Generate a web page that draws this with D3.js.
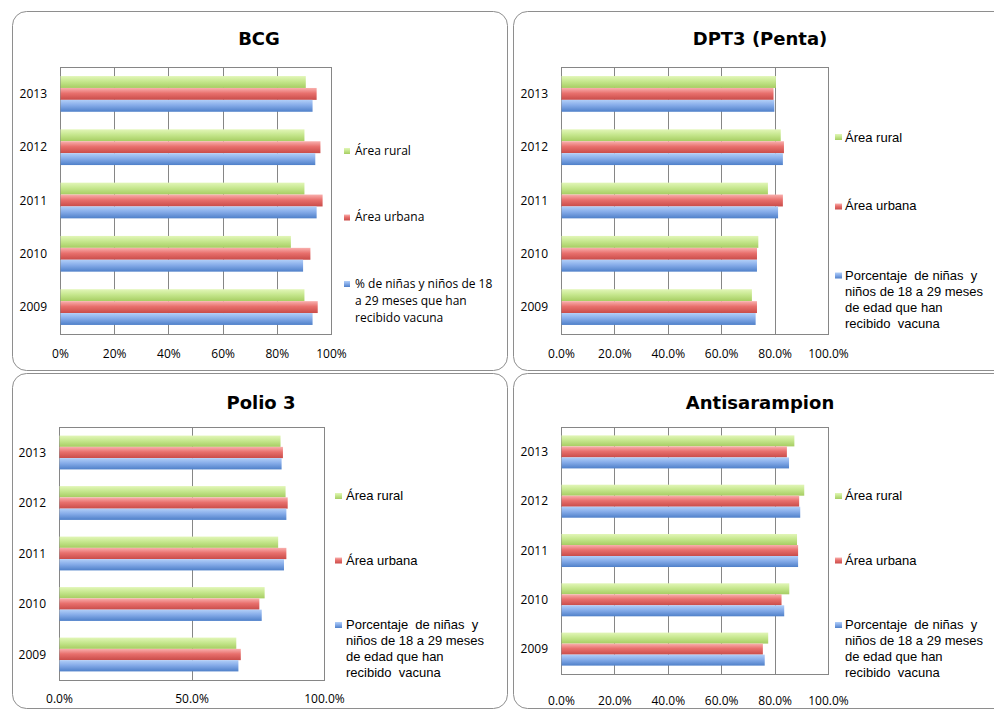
<!DOCTYPE html>
<html>
<head>
<meta charset="utf-8">
<script src="https://cdn.jsdelivr.net/npm/d3@7"></script>
<style>
  html, body { margin: 0; padding: 0; background: #fff; }
  svg { display: block; }
</style>
</head>
<body>
<svg id="chart" width="994" height="710"></svg>
<script>
// ---- Data (order: 2009 .. 2013) ----
const years = ["2009", "2010", "2011", "2012", "2013"];
const seriesNames = ["Área rural", "Área urbana", "Total"];

const bcgRural  = [90.2, 85.2, 90.2, 90.2, 90.7];
const bcgUrbana = [95.1, 92.4, 96.9, 96.1, 94.7];
const bcgTotal  = [93.2, 89.7, 94.7, 94.2, 93.2];

const dptRural  = [71.5, 73.9, 77.5, 82.3, 80.5];
const dptUrbana = [73.4, 73.4, 83.1, 83.5, 79.6];
const dptTotal  = [72.9, 73.4, 81.3, 83.1, 79.9];

const polioRural  = [66.9, 77.6, 82.7, 85.5, 83.6];
const polioUrbana = [68.6, 75.6, 85.8, 86.3, 84.5];
const polioTotal  = [67.7, 76.5, 84.9, 85.8, 84.0];

const antiRural  = [77.6, 85.5, 88.4, 91.1, 87.4];
const antiUrbana = [75.6, 82.6, 88.8, 89.2, 84.6];
const antiTotal  = [76.3, 83.6, 88.8, 89.6, 85.4];

const ticks20 = [0, 0.2, 0.4, 0.6, 0.8, 1.0];
const ticks50 = [0, 0.5, 1.0];

const bcgTotalLabel = ["% de niñas y niños de 18", "a 29 meses que han", "recibido vacuna"];
const longTotalLabel = ["Porcentaje\u00a0 de niñas\u00a0 y", "niños de 18 a 29 meses", "de edad que han", "recibido\u00a0 vacuna"];

// ---- Drawing ----
const svg = d3.select("#chart");
const defs = svg.append("defs");
const grads = {
  rural:  ["#e2f6b8", "#c6e78e", "#a6cd62"],
  urbana: ["#f9b0ae", "#e8706d", "#c94c49"],
  total:  ["#b2cff8", "#86ace9", "#4f80c9"]
};
Object.entries(grads).forEach(([k, c]) => {
  const g = defs.append("linearGradient").attr("id", "g-" + k)
    .attr("x1", 0).attr("y1", 0).attr("x2", 0).attr("y2", 1);
  g.append("stop").attr("offset", "0%").attr("stop-color", c[0]);
  g.append("stop").attr("offset", "45%").attr("stop-color", c[1]);
  g.append("stop").attr("offset", "100%").attr("stop-color", c[2]);
});
const keys = ["rural", "urbana", "total"];

const calibriLike = "'Open Sans', sans-serif";
const arialLike = "'Liberation Sans', Arial, sans-serif";

function drawPanel(cfg) {
  const g = svg.append("g");
  g.append("rect")
    .attr("x", cfg.box[0] + 0.5).attr("y", cfg.box[1] + 0.5)
    .attr("width", cfg.box[2]).attr("height", cfg.box[3])
    .attr("rx", 14).attr("ry", 14)
    .attr("fill", "#fff").attr("stroke", "#8e8e8e").attr("stroke-width", 1);

  g.append("text")
    .attr("x", cfg.titleX).attr("y", cfg.titleY)
    .attr("text-anchor", "middle")
    .style("font-family", "'DejaVu Sans', sans-serif")
    .style("font-weight", "bold").style("font-size", "18px")
    .attr("fill", "#000")
    .text(cfg.title);

  const [x0, x1, y0, y1] = cfg.plot;
  const x = d3.scaleLinear().domain([0, 1]).range([x0, x1]);
  const y = d3.scaleBand().domain(years.slice().reverse()).range([y0, y1])
    .paddingInner(0.33).paddingOuter(0.17);
  const ys = d3.scaleBand().domain(keys).range([0, y.bandwidth()]);

  // gridlines
  g.append("g").attr("transform", `translate(0,${y1})`)
    .call(d3.axisBottom(x).tickValues(cfg.ticks).tickSize(-(y1 - y0)).tickFormat(""))
    .call(s => s.select(".domain").remove())
    .call(s => s.selectAll("line").attr("stroke", "#868686").attr("stroke-width", 1)
      .attr("shape-rendering", "crispEdges"));

  // plot border
  g.append("rect").attr("x", x0).attr("y", y0)
    .attr("width", x1 - x0).attr("height", y1 - y0)
    .attr("fill", "none").attr("stroke", "#868686").attr("shape-rendering", "crispEdges");

  // bars
  const data = years.map((yr, i) => ({
    year: yr,
    vals: [cfg.series[0][i], cfg.series[1][i], cfg.series[2][i]]
  }));
  const grp = g.selectAll(".grp").data(data).enter().append("g")
    .attr("transform", d => `translate(0,${y(d.year)})`);
  grp.selectAll("rect").data(d => d.vals.map((v, j) => ({ k: keys[j], v })))
    .enter().append("rect")
    .attr("x", x(0) + 0.5)
    .attr("y", d => ys(d.k))
    .attr("width", d => x(d.v / 100) - x(0) - 0.5)
    .attr("height", ys.bandwidth())
    .attr("fill", d => `url(#g-${d.k})`);

  // x tick labels
  const xa = g.append("g").attr("transform", `translate(0,${y1})`)
    .call(d3.axisBottom(x).tickValues(cfg.ticks).tickSize(0).tickFormat(d3.format(cfg.fmt)));
  xa.select(".domain").remove();
  xa.selectAll("text").attr("y", cfg.tickDy).attr("dy", 0)
    .style("font-family", calibriLike).style("font-size", "12px").attr("fill", "#000");

  // y labels
  const ya = g.append("g").attr("transform", `translate(${x0},0)`)
    .call(d3.axisLeft(y).tickSize(0).tickPadding(13));
  ya.select(".domain").remove();
  ya.selectAll("text").attr("dy", "0.35em")
    .style("font-family", calibriLike).style("font-size", "12px").attr("fill", "#000");

  // legend
  const L = cfg.legend;
  const labels = [[seriesNames[0]], [seriesNames[1]], cfg.totalLabel];
  keys.forEach((k, i) => {
    g.append("rect").attr("x", L.mx).attr("y", L.my[i])
      .attr("width", L.msize[0]).attr("height", L.msize[1])
      .attr("fill", `url(#g-${k})`);
    const t = g.append("text").attr("x", L.tx)
      .style("font-family", L.font).style("font-size", L.fs).attr("fill", "#000");
    labels[i].forEach((line, j) => {
      t.append("tspan").attr("x", L.tx).attr("y", L.ty[i] + j * L.lh).text(line);
    });
  });
}

drawPanel({
  box: [12, 11, 495, 359], title: "BCG", titleX: 259, titleY: 45,
  plot: [60, 331, 67, 334], ticks: ticks20, fmt: ".0%", tickDy: 24,
  series: [bcgRural, bcgUrbana, bcgTotal], totalLabel: bcgTotalLabel,
  legend: { mx: 344, msize: [6, 6], my: [148, 214.5, 281], tx: 355,
            ty: [155, 221, 288], lh: 17, font: calibriLike, fs: "12px" }
});
drawPanel({
  box: [513, 11, 500, 359], title: "DPT3 (Penta)", titleX: 760, titleY: 45,
  plot: [561, 828, 67, 334], ticks: ticks20, fmt: ".1%", tickDy: 24,
  series: [dptRural, dptUrbana, dptTotal], totalLabel: longTotalLabel,
  legend: { mx: 835, msize: [7, 6], my: [134, 203.5, 272.5], tx: 845,
            ty: [141.5, 210, 279.5], lh: 16, font: arialLike, fs: "13px" }
});
drawPanel({
  box: [12, 373, 495, 335], title: "Polio 3", titleX: 261, titleY: 409,
  plot: [59, 324, 427, 680], ticks: ticks50, fmt: ".1%", tickDy: 23,
  series: [polioRural, polioUrbana, polioTotal], totalLabel: longTotalLabel,
  legend: { mx: 335, msize: [7, 6], my: [493, 557.5, 622], tx: 346,
            ty: [500, 564.5, 629], lh: 16, font: arialLike, fs: "13px" }
});
drawPanel({
  box: [513, 373, 500, 335], title: "Antisarampion", titleX: 760, titleY: 409,
  plot: [561, 828, 427, 674], ticks: ticks20, fmt: ".1%", tickDy: 31,
  series: [antiRural, antiUrbana, antiTotal], totalLabel: longTotalLabel,
  legend: { mx: 835, msize: [7, 6], my: [493, 557.5, 622], tx: 845,
            ty: [500, 564.5, 629], lh: 16, font: arialLike, fs: "13px" }
});
</script>
</body>
</html>
